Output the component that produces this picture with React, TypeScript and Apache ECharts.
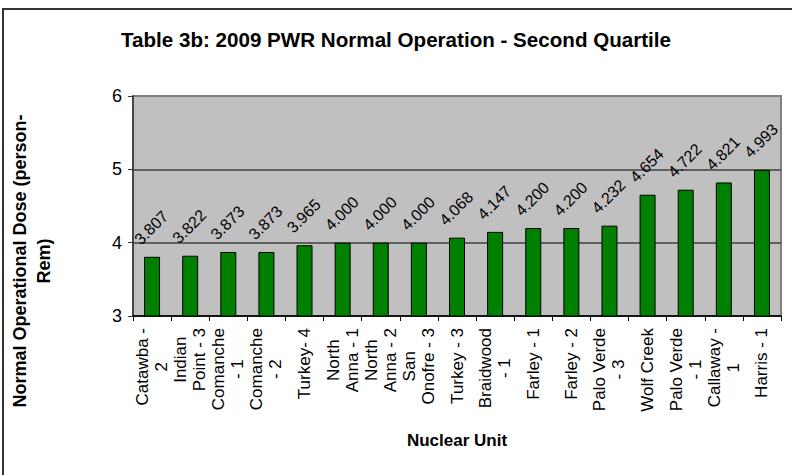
import React, { useEffect, useRef } from "react";
import * as echarts from "echarts";

const titleText = "Table 3b: 2009 PWR Normal Operation - Second Quartile";
const xAxisTitle = "Nuclear Unit";
const yAxisTitle = "Normal Operational Dose (person-\nRem)";

const units = [
  "Catawba -\n2",
  "Indian\nPoint - 3",
  "Comanche\n- 1",
  "Comanche\n- 2",
  "Turkey- 4",
  "North\nAnna - 1",
  "North\nAnna - 2",
  "San\nOnofre - 3",
  "Turkey - 3",
  "Braidwood\n- 1",
  "Farley - 1",
  "Farley - 2",
  "Palo Verde\n- 3",
  "Wolf Creek",
  "Palo Verde\n- 1",
  "Callaway -\n1",
  "Harris - 1",
];

const doses = [
  3.807, 3.822, 3.873, 3.873, 3.965, 4.0, 4.0, 4.0, 4.068, 4.147, 4.2, 4.2,
  4.232, 4.654, 4.722, 4.821, 4.993,
];

const yMin = 3;
const yMax = 6;
const yStep = 1;

const FONT = "Arial, 'Liberation Sans', sans-serif";

export default function App() {
  const ref = useRef<HTMLDivElement>(null);
  useEffect(() => {
    if (!ref.current) return;
    const chart = echarts.init(ref.current, undefined, { renderer: "svg" });
    chart.setOption({
      animation: false,
      backgroundColor: "#ffffff",
      title: {
        text: titleText,
        left: "center",
        top: 24,
        textStyle: { fontFamily: FONT, fontSize: 20.6, fontWeight: "bold", color: "#000" },
      },
      graphic: [
        {
          type: "rect",
          shape: { x: 3, y: 9, width: 820, height: 520 },
          style: { fill: "none", stroke: "#333333", lineWidth: 2 },
          silent: true,
          z: 100,
        },
      ],
      grid: {
        left: 133,
        right: 11,
        top: 96,
        bottom: 159,
        show: true,
        backgroundColor: "#C0C0C0",
        borderColor: "#808080",
        borderWidth: 2,
      },
      xAxis: {
        type: "category",
        data: units,
        name: xAxisTitle,
        nameLocation: "middle",
        nameGap: 116,
        nameTextStyle: { fontFamily: FONT, fontSize: 17, fontWeight: "bold", color: "#000" },
        axisLine: { lineStyle: { color: "#000", width: 1.5 } },
        axisTick: { show: true, length: 5, lineStyle: { color: "#000", width: 1 } },
        axisLabel: {
          interval: 0,
          rotate: 90,
          margin: 12,
          fontFamily: FONT,
          fontSize: 17,
          color: "#000",
          lineHeight: 19,
          formatter: (v: string) =>
            v
              .split("\n")
              .map((s) => `{c|${s}}`)
              .join("\n"),
          rich: {
            c: { align: "center", fontFamily: FONT, fontSize: 17, color: "#000", lineHeight: 19 },
          },
        },
      },
      yAxis: {
        type: "value",
        min: yMin,
        max: yMax,
        interval: yStep,
        name: yAxisTitle,
        nameLocation: "middle",
        nameGap: 77,
        nameTextStyle: {
          fontFamily: FONT,
          fontSize: 18,
          fontWeight: "bold",
          color: "#000",
          lineHeight: 24,
          align: "center",
          padding: [0, 110, 0, 0],
        },
        axisLine: { show: true, lineStyle: { color: "#333333", width: 1.5 } },
        axisTick: { show: true, length: 5, lineStyle: { color: "#333333" } },
        axisLabel: { fontFamily: FONT, fontSize: 18, color: "#000", margin: 11 },
        splitLine: {
          show: true,
          lineStyle: { color: ["#404040", "#404040", "#404040", "#808080"], width: 1.6 },
        },
      },
      series: [
        {
          type: "bar",
          data: doses,
          barWidth: 16,
          itemStyle: { color: "#008000", borderColor: "#000", borderWidth: 1 },
          label: {
            show: true,
            position: [-7, -15],
            rotate: 45,
            align: "left",
            verticalAlign: "middle",
            fontFamily: FONT,
            fontSize: 16,
            color: "#000",
            formatter: (p: any) => Number(p.value).toFixed(3),
          },
        },
      ],
    });
    return () => chart.dispose();
  }, []);
  return (
    <div
      ref={ref}
      style={{ position: "absolute", left: 0, top: 0, width: 792, height: 475 }}
    />
  );
}
